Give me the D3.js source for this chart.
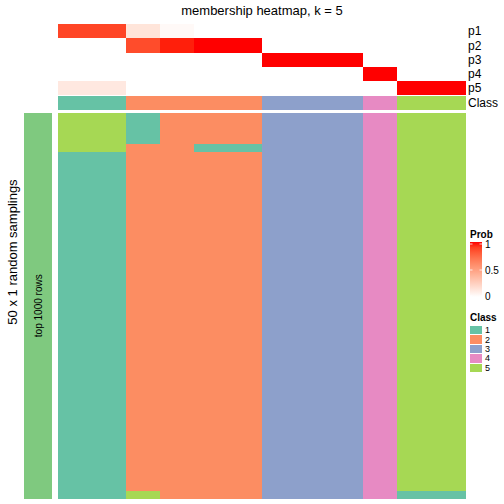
<!DOCTYPE html>
<html>
<head>
<meta charset="utf-8">
<script src="https://cdn.jsdelivr.net/npm/d3@7"></script>
<style>
  html, body { margin: 0; padding: 0; background: #fff; }
  svg { display: block; font-family: "Liberation Sans", Arial, Helvetica, sans-serif; }
  rect { shape-rendering: crispEdges; }
</style>
</head>
<body>
<svg id="chart" width="504" height="504"></svg>
<script>
// ---------------- data ----------------
const columns = ["s1","s2","s3","s4","s5","s6","s7","s8","s9","s10","s11","s12"];
const classOfColumn = [1,1,2,2,2,2,3,3,3,4,5,5];
const probRows = ["p1","p2","p3","p4","p5"];
const p1 = [0.88,0.88,0.14,0.03,0,0,0,0,0,0,0,0];
const p2 = [0,0,0.86,0.97,1,1,0,0,0,0,0,0];
const p3 = [0,0,0,0,0,0,1,1,1,0,0,0];
const p4 = [0,0,0,0,0,0,0,0,0,1,0,0];
const p5 = [0.12,0.12,0,0,0,0,0,0,0,0,1,1];
const nSamplings = 50;
// per column: runs of [class, number of samplings] from top to bottom
const samplingRuns = [
  [[5,5],[1,45]],
  [[5,5],[1,45]],
  [[1,4],[2,45],[5,1]],
  [[2,50]],
  [[2,4],[1,1],[2,45]],
  [[2,4],[1,1],[2,45]],
  [[3,50]],
  [[3,50]],
  [[3,50]],
  [[4,50]],
  [[5,49],[1,1]],
  [[5,49],[1,1]]
];
const classLabels = ["1","2","3","4","5"];
const classColors = ["#66C2A5","#FC8D62","#8DA0CB","#E78AC3","#A6D854"];
const probTicks = [0, 0.5, 1];
const titleText = "membership heatmap, k = 5";
const rowTitle = "50 x 1 random samplings";
const sliceLabel = "top 1000 rows";

// ---------------- drawing ----------------
const svg = d3.select("#chart");
const probColor = d3.scaleLinear().domain([0,1]).range(["#FFFFFF","#FF0000"]).interpolate(d3.interpolateLab);
const classColor = d3.scaleOrdinal().domain([1,2,3,4,5]).range(classColors);

const x = d3.scaleBand().domain(columns).range([58, 465]);
const yTop = d3.scaleBand().domain(probRows).range([24.3, 95]);
const classRow = {y0: 96, y1: 109.7};
const yMain = d3.scaleBand().domain(d3.range(nSamplings)).range([113, 498.5]);

// title
svg.append("text").attr("x", 262).attr("y", 14.5).attr("text-anchor","middle")
  .attr("font-size", 13).attr("fill","#000").text(titleText);

// probability rows
const probData = [p1,p2,p3,p4,p5];
probRows.forEach((r, i) => {
  svg.append("g").selectAll("rect").data(columns).join("rect")
    .attr("x", d => x(d)).attr("y", yTop(r))
    .attr("width", x.bandwidth() + 0.6).attr("height", yTop.bandwidth() + 0.3)
    .attr("fill", (d, j) => probColor(probData[i][j]));
  svg.append("text").attr("x", 468).attr("y", yTop(r) + yTop.bandwidth()/2)
    .attr("dominant-baseline","central").attr("font-size", 12).text(r);
});

// class annotation
svg.append("g").selectAll("rect").data(columns).join("rect")
  .attr("x", d => x(d)).attr("y", classRow.y0)
  .attr("width", x.bandwidth() + 0.6).attr("height", classRow.y1 - classRow.y0)
  .attr("fill", (d, j) => classColor(classOfColumn[j]));
svg.append("text").attr("x", 468).attr("y", (classRow.y0 + classRow.y1)/2)
  .attr("dominant-baseline","central").attr("font-size", 12).text("Class");

// main heatmap
const cells = [];
samplingRuns.forEach((runs, j) => {
  let row = 0;
  runs.forEach(([cls, n]) => {
    for (let k = 0; k < n; k++) { cells.push({col: columns[j], row: row, cls: cls}); row++; }
  });
});
svg.append("g").selectAll("rect").data(cells).join("rect")
  .attr("x", d => x(d.col)).attr("y", d => yMain(d.row))
  .attr("width", x.bandwidth() + 0.6).attr("height", yMain.bandwidth() + 0.6)
  .attr("fill", d => classColor(d.cls));

// left slice bar
svg.append("rect").attr("x", 24).attr("y", yMain.range()[0])
  .attr("width", 28).attr("height", yMain.range()[1] - yMain.range()[0])
  .attr("fill", "#7FC97F");
const midMain = (yMain.range()[0] + yMain.range()[1]) / 2;
svg.append("text").attr("transform", `translate(38,${midMain}) rotate(-90)`)
  .attr("text-anchor","middle").attr("dominant-baseline","central")
  .attr("font-size", 10).text(sliceLabel);
svg.append("text").attr("transform", `translate(12.5,252) rotate(-90)`)
  .attr("text-anchor","middle").attr("dominant-baseline","central")
  .attr("font-size", 13).text(rowTitle);

// legend: Prob
const lg = svg.append("g");
lg.append("text").attr("x", 470).attr("y", 238).attr("font-size", 10)
  .attr("font-weight","bold").text("Prob");
const defs = svg.append("defs");
const grad = defs.append("linearGradient").attr("id","probGrad")
  .attr("x1","0").attr("y1","1").attr("x2","0").attr("y2","0");
d3.range(0, 1.0001, 0.1).forEach(t => {
  grad.append("stop").attr("offset", t).attr("stop-color", probColor(t));
});
const yLeg = d3.scaleLinear().domain([0,1]).range([297, 242]);
lg.append("rect").attr("x", 470).attr("y", yLeg(1)).attr("width", 12)
  .attr("height", yLeg(0) - yLeg(1)).attr("fill","url(#probGrad)");
const tickPos = d3.scaleLinear().domain([0,1]).range([296, 244]);
probTicks.forEach(t => {
  lg.append("line").attr("x1",470).attr("x2",472.5).attr("y1",tickPos(t)).attr("y2",tickPos(t))
    .attr("stroke","#fff").attr("stroke-width",0.8);
  lg.append("line").attr("x1",479.5).attr("x2",482).attr("y1",tickPos(t)).attr("y2",tickPos(t))
    .attr("stroke","#fff").attr("stroke-width",0.8);
  lg.append("text").attr("x", 485).attr("y", tickPos(t)).attr("dominant-baseline","central")
    .attr("font-size", 10).text(t === 0 ? "0" : (t === 1 ? "1" : "0.5"));
});

// legend: Class
lg.append("text").attr("x", 470).attr("y", 321).attr("font-size", 10)
  .attr("font-weight","bold").text("Class");
const ySw = d3.scaleBand().domain(classLabels).range([325.5, 372.5]);
lg.selectAll(".sw").data(classLabels).join("rect").attr("class","sw")
  .attr("x", 470).attr("y", d => ySw(d) + 0.5).attr("width", 12)
  .attr("height", ySw.bandwidth() - 1).attr("fill", (d, i) => classColors[i]);
lg.selectAll(".swl").data(classLabels).join("text").attr("class","swl")
  .attr("x", 485).attr("y", d => ySw(d) + ySw.bandwidth()/2)
  .attr("dominant-baseline","central").attr("font-size", 9).text(d => d);
</script>
</body>
</html>
